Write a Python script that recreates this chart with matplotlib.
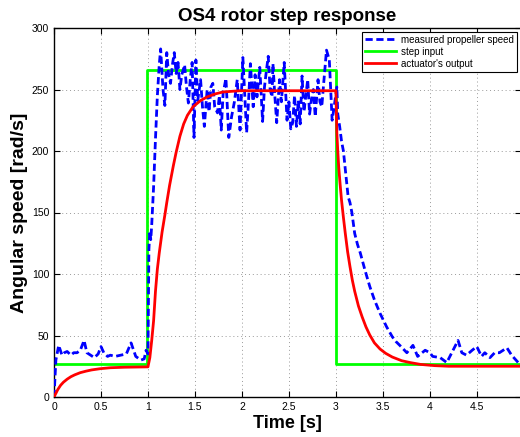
import matplotlib
matplotlib.use("Agg")
import matplotlib.pyplot as plt

# measured propeller speed
meas_t = [0.00, 0.02, 0.05, 0.085, 0.11, 0.14, 0.18, 0.21, 0.245, 0.28, 0.32, 0.35,
          0.39, 0.43, 0.47, 0.50, 0.53, 0.57, 0.60, 0.65, 0.71, 0.77, 0.82, 0.87,
          0.925, 0.96, 0.98, 1.00, 1.01, 1.02, 1.03, 1.04, 1.06, 1.08, 1.10, 1.12,
          1.135, 1.16, 1.18, 1.20, 1.22, 1.24, 1.26, 1.28, 1.30, 1.32, 1.34, 1.36,
          1.39, 1.41, 1.43, 1.45, 1.47, 1.49, 1.51, 1.53, 1.56, 1.58, 1.60, 1.63,
          1.65, 1.67, 1.69, 1.71, 1.74, 1.76, 1.78, 1.80, 1.83, 1.86, 1.89, 1.92,
          1.95, 1.98, 2.01, 2.05, 2.07, 2.09, 2.12, 2.14, 2.16, 2.19, 2.22, 2.24,
          2.26, 2.28, 2.30, 2.32, 2.33, 2.35, 2.37, 2.40, 2.42, 2.45, 2.48, 2.50,
          2.52, 2.54, 2.56, 2.58, 2.60, 2.62, 2.64, 2.66, 2.68, 2.70, 2.72, 2.74,
          2.76, 2.78, 2.81, 2.83, 2.85, 2.87, 2.90, 2.93, 2.95, 2.96, 2.98, 3.01,
          3.02, 3.04, 3.06, 3.08, 3.10, 3.13, 3.15, 3.17, 3.20, 3.23, 3.26, 3.31,
          3.36, 3.41, 3.47, 3.54, 3.60, 3.64, 3.68, 3.755, 3.82, 3.87, 3.95, 4.00,
          4.03, 4.11, 4.18, 4.24, 4.30, 4.34, 4.39, 4.45, 4.50, 4.55, 4.585, 4.64,
          4.69, 4.74, 4.82, 4.87, 4.94]
meas_v = [0, 30, 42, 34, 36, 37, 34, 36, 36, 38, 46, 36,
          34, 32, 35, 41, 36, 33, 34, 33, 34, 35, 44, 33,
          30, 31, 38, 35, 120, 135, 128, 140, 171, 210, 245, 270,
          283, 250, 237, 280, 262, 255, 270, 280, 263, 272, 250, 262,
          270, 252, 239, 258, 272, 211, 274, 241, 258, 236, 220, 250,
          232, 252, 255, 236, 231, 245, 217, 247, 259, 211, 228, 240,
          258, 217, 276, 215, 240, 271, 236, 262, 244, 268, 224, 252,
          265, 277, 250, 244, 271, 245, 223, 258, 240, 272, 225, 240,
          218, 223, 245, 220, 241, 222, 261, 232, 245, 258, 230, 242,
          250, 228, 258, 240, 236, 255, 282, 274, 240, 225, 235, 252,
          230, 220, 208, 200, 185, 163, 158, 150, 133, 124, 117, 103,
          90, 79, 68, 57, 49, 45, 42, 36, 42, 33, 38, 36,
          33, 32, 28, 37, 46, 36, 34, 38, 41, 33, 36, 32,
          36, 36, 40, 34, 28]

# step input
step_t = [0.0, 0.995, 0.995, 3.0, 3.0, 5.0]
step_v = [27, 27, 266, 266, 27, 27]

# actuator's output
act_t = [0.0, 0.02, 0.04, 0.07, 0.10, 0.14, 0.18, 0.22, 0.28, 0.34, 0.40, 0.49,
         0.60, 0.75, 1.00, 1.02, 1.04, 1.06, 1.08, 1.10, 1.12, 1.15, 1.18, 1.20,
         1.23, 1.27, 1.30, 1.34, 1.38, 1.42, 1.48, 1.56, 1.63, 1.72, 1.80, 1.98,
         2.30, 2.70, 3.00, 3.005, 3.01, 3.02, 3.03, 3.045, 3.06, 3.08, 3.10, 3.125,
         3.15, 3.175, 3.20, 3.24, 3.28, 3.32, 3.36, 3.41, 3.47, 3.53, 3.60, 3.70,
         3.79, 3.90, 4.05, 4.20, 5.0]
act_v = [0, 3, 6, 9.5, 12, 14.5, 16.5, 18, 19.8, 21, 22, 23,
         23.8, 24.2, 24.5, 32, 46, 62, 86, 104, 117, 134, 148, 158,
         172, 188, 199, 212, 222, 229, 236, 241, 244, 246.5, 248, 249,
         249, 249, 249, 232, 215, 200, 187, 173, 160, 146, 133, 118,
         106, 95, 86, 74, 65, 57, 50.5, 44, 39, 35.5, 32.5, 29.5,
         28, 26.5, 25.5, 25, 25]

plt.rcParams['font.family'] = ['Liberation Sans', 'DejaVu Sans']

fig = plt.figure(figsize=(5.2, 4.37), dpi=100)
ax = fig.add_axes([54 / 520, 40 / 437, 467 / 520, 369 / 437])

ax.plot(meas_t, meas_v, color='#0000ff', lw=2, linestyle=(0, (2.6, 1.3)),
        label='measured propeller speed', zorder=3)
ax.plot(step_t, step_v, color='#00ff00', lw=2, label='step input', zorder=2)
ax.plot(act_t, act_v, color='#ff0000', lw=2, label="actuator's output", zorder=4)

ax.set_xlim(0, 4.97)
ax.set_ylim(0, 300)
ax.set_xticks([0, 0.5, 1, 1.5, 2, 2.5, 3, 3.5, 4, 4.5])
ax.set_xticklabels(['0', '0.5', '1', '1.5', '2', '2.5', '3', '3.5', '4', '4.5'])
ax.set_yticks(range(0, 301, 50))
ax.tick_params(direction='in', top=True, right=True, labelsize=7.5, length=4, width=0.8)
ax.grid(True, linestyle=(0, (1, 3)), color='#999999', lw=0.7)
for s in ax.spines.values():
    s.set_linewidth(1.0)

ax.set_title('OS4 rotor step response', fontsize=13.5, fontweight='bold', pad=5)
ax.set_xlabel('Time [s]', fontsize=13, fontweight='bold', labelpad=2)
ax.set_ylabel('Angular speed [rad/s]', fontsize=14, fontweight='bold', labelpad=3)

leg = ax.legend(loc='upper right', fontsize=7, fancybox=False, edgecolor='black',
                framealpha=1, handlelength=3.2, borderaxespad=0.4,
                labelspacing=0.2, borderpad=0.3, handletextpad=0.5)
leg.get_frame().set_linewidth(0.8)

fig.savefig('out.png', dpi=100)
